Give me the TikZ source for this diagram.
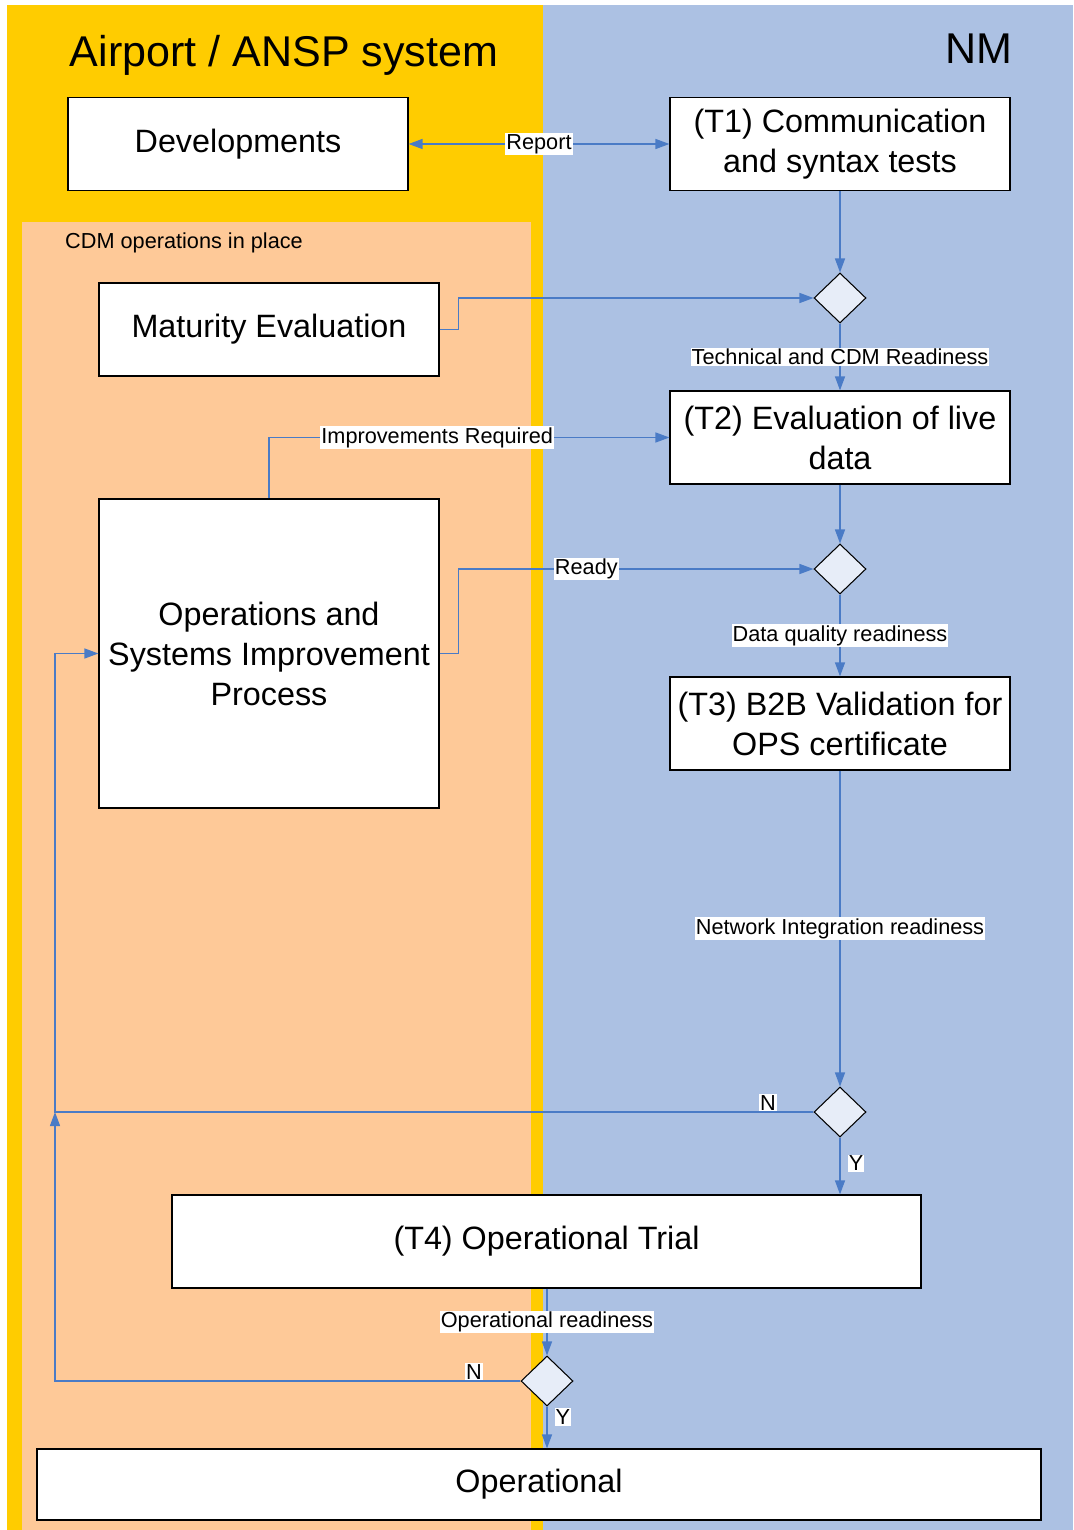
\documentclass[tikz,border=0pt]{standalone}
\usepackage{fontspec}
\setmainfont{Liberation Sans}
\usetikzlibrary{shapes.geometric}
\usetikzlibrary{arrows.meta}

\definecolor{airport}{HTML}{FFCC00}
\definecolor{nmblue}{HTML}{ACC1E3}
\definecolor{cdmpeach}{HTML}{FEC998}
\definecolor{flowblue}{HTML}{4A7BC6}
\definecolor{decfill}{HTML}{E7EDF8}

\begin{document}
\begin{tikzpicture}[x=0.02cm, y=-0.02cm,
  >={Triangle[length=0.28cm, width=0.2cm]},
  box/.style={draw=black, fill=white, line width=0.7pt, minimum width=6.8cm, minimum height=1.86cm,
    align=center, inner sep=2pt, font=\fontsize{18.4}{22.8}\selectfont},
  decision/.style={diamond, draw=black, fill=decfill, line width=0.6pt,
    minimum width=1.04cm, minimum height=1.0cm, inner sep=0pt},
  flow/.style={draw=flowblue, line width=0.75pt, ->},
  lbl/.style={fill=white, text=black, inner sep=0.6pt, font=\fontsize{12.35}{14}\selectfont}]
  \useasboundingbox (0,0) rectangle (1073,1530);
  % swimlanes
  \fill[airport] (7,5) rectangle (543,1530);
  \fill[nmblue] (543,5) rectangle (1073,1530);
  \fill[cdmpeach] (22,222) rectangle (531,1530);
  \node[anchor=base, font=\fontsize{24.5}{28}\selectfont] (airport) at (284,67) {Airport / ANSP system};
  \node[anchor=base, font=\fontsize{24.5}{28}\selectfont] (nm) at (979,64) {NM};
  \node[anchor=west, font=\fontsize{12.35}{14}\selectfont] (cdm) at (59,243) {CDM operations in place};

  % boxes
  \node[box] (dev) at (238,144) {Developments};
  \node[box] (t1) at (840,144) {(T1) Communication\\and syntax tests};
  \node[box] (mat) at (269,329.5) {Maturity Evaluation};
  \node[box] (t2) at (840,437.5) {(T2) Evaluation of live\\data};
  \node[box, minimum height=6.18cm] (ops) at (269,653.5) {Operations and\\Systems Improvement\\Process};
  \node[box] (t3) at (840,723.5) {(T3) B2B Validation for\\OPS certificate};
  \node[box, minimum width=14.98cm] (t4) at (546.5,1241.5) {(T4) Operational Trial};
  \node[box, minimum width=20.08cm, minimum height=1.42cm] (oper) at (539,1484.5) {Operational};

  \node[decision] (q1) at (840,298) {};
  \node[decision] (q2) at (840,569) {};
  \node[decision] (q3) at (840,1112) {};
  \node[decision] (q4) at (547,1381) {};

  \coordinate (rail) at (55,653.5);
  \coordinate (join) at (55,1112);

  % connectors
  \draw[flow, <->] (dev) -- node[lbl]{Report} (t1);
  \draw[flow] (t1) -- (q1);
  \draw[flow] (mat.east) -- ++(19,0) |- (q1);
  \draw[flow] (q1) -- node[lbl]{Technical and CDM Readiness} (t2);
  \draw[flow] (ops.north) |- node[lbl, pos=0.71]{Improvements Required} (t2);
  \draw[flow] (t2) -- (q2);
  \draw[flow] (ops.east) -- ++(19,0) |- node[lbl, pos=0.68]{Ready} (q2);
  \draw[flow] (q2) -- node[lbl]{Data quality readiness} (t3);
  \draw[flow] (t3) -- node[lbl]{Network Integration readiness} (q3);
  \draw[flow] (q3) -| node[lbl, above, pos=0.03]{N} (rail) -- (ops);
  \draw[flow] (q3) -- node[lbl, right=4pt, pos=0.45]{Y} (q3 |- t4.north);
  \draw[flow] (t4.south -| q4) -- node[lbl]{Operational readiness} (q4);
  \draw[flow] (q4) -| node[lbl, above, pos=0.05]{N} (join);
  \draw[flow] (q4) -- node[lbl, right=4pt, pos=0.25]{Y} (q4 |- oper.north);
\end{tikzpicture}
\end{document}
